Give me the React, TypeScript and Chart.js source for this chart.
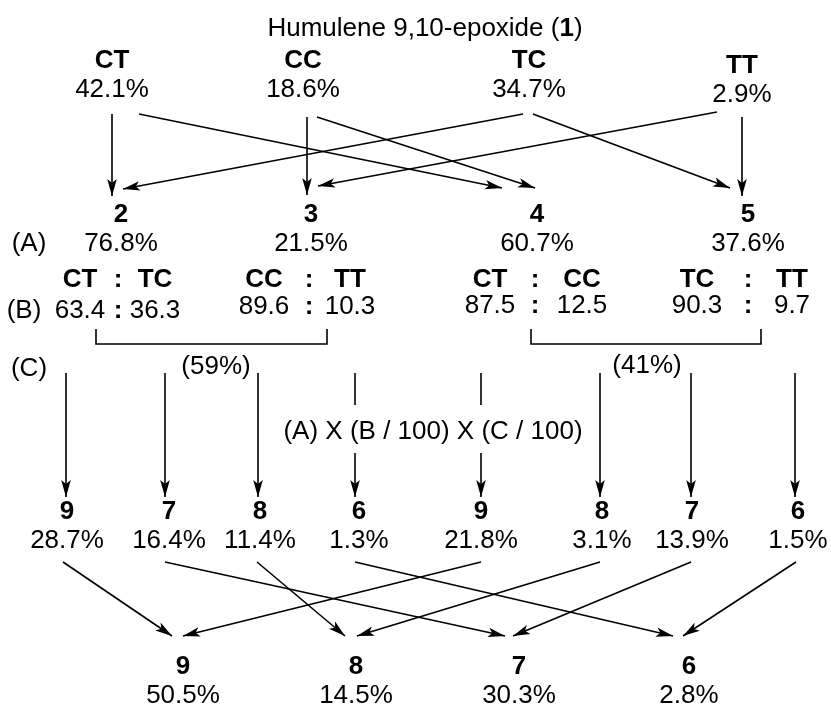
import React, { useEffect, useRef } from 'react';
import { Chart, registerables } from 'chart.js';

Chart.register(...registerables);

// ---------------- data ----------------
const titleParts = ['Humulene 9,10-epoxide (', '1', ')'];
const isomerNames = ['CT', 'CC', 'TC', 'TT'];
const isomerShares = [42.1, 18.6, 34.7, 2.9];
const ketoneNames = ['2', '3', '4', '5'];
const ketoneYieldA = [76.8, 21.5, 60.7, 37.6];
const ratioPairs = [['CT', 'TC'], ['CC', 'TT'], ['CT', 'CC'], ['TC', 'TT']];
const ratioFirst = ['63.4', '89.6', '87.5', '90.3'];
const ratioSecond = ['36.3', '10.3', '12.5', '9.7'];
const groupShareC = [59, 41];
const productNames = ['9', '7', '8', '6', '9', '8', '7', '6'];
const productShares = [28.7, 16.4, 11.4, 1.3, 21.8, 3.1, 13.9, 1.5];
const finalNames = ['9', '8', '7', '6'];
const finalShares = [50.5, 14.5, 30.3, 2.8];
const rowTags = ['(A)', '(B)', '(C)'];
const formulaText = '(A) X (B / 100) X (C / 100)';
// links: [source index, target index]
const isomerLinks = [[0, 0], [0, 2], [1, 1], [1, 2], [2, 0], [2, 3], [3, 1], [3, 3]];
const productLinks = [[0, 0], [1, 2], [2, 1], [3, 3], [4, 0], [5, 1], [6, 2], [7, 3]];

// ---------------- layout (diagram units) ----------------
const W = 831;
const H = 706;
const FONT = '"Liberation Sans", Arial, Helvetica, sans-serif';
const FS = 26;
const LAY = {
  titleX: 425, titleY: 36,
  isoX: [112, 303, 529, 742], isoNameY: [68, 68, 68, 73], isoPctY: [97, 97, 97, 102],
  ketX: [121, 311, 537, 748], ketNameY: 222, ketPctY: 251,
  tagX: [29, 24, 29], tagY: [251, 318, 376],
  ratioX: [[80, 118, 155], [264, 309, 350], [490, 535, 582], [697, 748, 792]],
  ratioLabelY: 287, ratioNumY: [318, 314, 313, 313],
  bracketX: [[96, 327], [531, 761]], bracketTop: 329, bracketBottom: 344,
  groupX: [216, 647], groupY: [374, 373],
  dropX: [66, 165, 258, 355, 481, 600, 691, 795], dropTop: 373, dropTip: 497,
  dropBroken: [3, 4], breakTop: 405, breakBottom: 453,
  formulaX: 433, formulaY: 439,
  prodX: [67, 169, 260, 359, 481, 602, 692, 798], prodNameY: 519, prodPctY: 548,
  finalX: [183, 356, 519, 689], finalNameY: 674, finalPctY: 703,
  // arrow end points, same order as isomerLinks
  topArrows: [[112, 114, 112, 196], [139, 114, 502, 188], [307, 117, 307, 195], [317, 117, 535, 188],
    [523, 114, 123, 189], [533, 114, 730, 188], [717, 112, 318, 186], [742, 117, 742, 196]],
  bottomStartX: [63, 165, 257, 355, 481, 600, 691, 796], bottomStartY: 562, bottomTipY: 636,
  bottomTipX: [172, 505, 345, 673, 183, 357, 513, 683],
};

type Part = { t: string; b?: boolean };
type TextItem = { parts: Part[]; x: number; y: number };

const pct = (v: number) => `${v.toFixed(1)}%`;

function buildTexts(): TextItem[] {
  const out: TextItem[] = [];
  out.push({ parts: [{ t: titleParts[0] }, { t: titleParts[1], b: true }, { t: titleParts[2] }], x: LAY.titleX, y: LAY.titleY });
  isomerNames.forEach((n, i) => {
    out.push({ parts: [{ t: n, b: true }], x: LAY.isoX[i], y: LAY.isoNameY[i] });
    out.push({ parts: [{ t: pct(isomerShares[i]) }], x: LAY.isoX[i], y: LAY.isoPctY[i] });
  });
  ketoneNames.forEach((n, i) => {
    out.push({ parts: [{ t: n, b: true }], x: LAY.ketX[i], y: LAY.ketNameY });
    out.push({ parts: [{ t: pct(ketoneYieldA[i]) }], x: LAY.ketX[i], y: LAY.ketPctY });
  });
  rowTags.forEach((t, i) => out.push({ parts: [{ t }], x: LAY.tagX[i], y: LAY.tagY[i] }));
  ratioPairs.forEach((p, i) => {
    const [a, c, b] = LAY.ratioX[i];
    out.push({ parts: [{ t: p[0], b: true }], x: a, y: LAY.ratioLabelY });
    out.push({ parts: [{ t: ':', b: true }], x: c, y: LAY.ratioLabelY });
    out.push({ parts: [{ t: p[1], b: true }], x: b, y: LAY.ratioLabelY });
    out.push({ parts: [{ t: ratioFirst[i] }], x: a, y: LAY.ratioNumY[i] });
    out.push({ parts: [{ t: ':', b: true }], x: c, y: LAY.ratioNumY[i] });
    out.push({ parts: [{ t: ratioSecond[i] }], x: b, y: LAY.ratioNumY[i] });
  });
  groupShareC.forEach((g, i) => out.push({ parts: [{ t: `(${g}%)` }], x: LAY.groupX[i], y: LAY.groupY[i] }));
  out.push({ parts: [{ t: formulaText }], x: LAY.formulaX, y: LAY.formulaY });
  productNames.forEach((n, i) => {
    out.push({ parts: [{ t: n, b: true }], x: LAY.prodX[i], y: LAY.prodNameY });
    out.push({ parts: [{ t: pct(productShares[i]) }], x: LAY.prodX[i], y: LAY.prodPctY });
  });
  finalNames.forEach((n, i) => {
    out.push({ parts: [{ t: n, b: true }], x: LAY.finalX[i], y: LAY.finalNameY });
    out.push({ parts: [{ t: pct(finalShares[i]) }], x: LAY.finalX[i], y: LAY.finalPctY });
  });
  return out;
}

type Pt = { x: number; y: number };

function lineDs(points: Pt[], arrow: boolean) {
  return {
    data: points,
    showLine: true,
    borderColor: '#000',
    backgroundColor: '#000',
    borderWidth: 1.6,
    pointRadius: 0,
    pointHoverRadius: 0,
    fill: false,
    tension: 0,
    clip: false,
    arrow,
  } as any;
}

function buildDatasets() {
  const ds: any[] = [];
  isomerLinks.forEach((_, i) => {
    const [x1, y1, x2, y2] = LAY.topArrows[i];
    ds.push(lineDs([{ x: x1, y: y1 }, { x: x2, y: y2 }], true));
  });
  LAY.bracketX.forEach(([a, b]) => {
    ds.push(lineDs([
      { x: a, y: LAY.bracketTop }, { x: a, y: LAY.bracketBottom },
      { x: b, y: LAY.bracketBottom }, { x: b, y: LAY.bracketTop },
    ], false));
  });
  LAY.dropX.forEach((x, i) => {
    if (LAY.dropBroken.includes(i)) {
      ds.push(lineDs([{ x, y: LAY.dropTop }, { x, y: LAY.breakTop }], false));
      ds.push(lineDs([{ x, y: LAY.breakBottom }, { x, y: LAY.dropTip }], true));
    } else {
      ds.push(lineDs([{ x, y: LAY.dropTop }, { x, y: LAY.dropTip }], true));
    }
  });
  productLinks.forEach(([s], i) => {
    ds.push(lineDs([
      { x: LAY.bottomStartX[s], y: LAY.bottomStartY },
      { x: LAY.bottomTipX[i], y: LAY.bottomTipY },
    ], true));
  });
  return ds;
}

export default function App() {
  const ref = useRef<HTMLCanvasElement | null>(null);

  useEffect(() => {
    if (!ref.current) return;
    const texts = buildTexts();
    const plugin = {
      id: 'diagramOverlay',
      afterDatasetsDraw(chart: any) {
        const ctx: CanvasRenderingContext2D = chart.ctx;
        const sx = chart.scales.x;
        const sy = chart.scales.y;
        ctx.save();
        // arrowheads
        ctx.fillStyle = '#000';
        chart.data.datasets.forEach((d: any) => {
          if (!d.arrow) return;
          const pts = d.data as Pt[];
          const a = pts[pts.length - 2];
          const b = pts[pts.length - 1];
          const ax = sx.getPixelForValue(a.x), ay = sy.getPixelForValue(a.y);
          const bx = sx.getPixelForValue(b.x), by = sy.getPixelForValue(b.y);
          const ang = Math.atan2(by - ay, bx - ax);
          const len = 17, half = 4.8, notch = 13;
          const c = Math.cos(ang), s = Math.sin(ang);
          ctx.beginPath();
          ctx.moveTo(bx, by);
          ctx.lineTo(bx - len * c - half * s, by - len * s + half * c);
          ctx.lineTo(bx - notch * c, by - notch * s);
          ctx.lineTo(bx - len * c + half * s, by - len * s - half * c);
          ctx.closePath();
          ctx.fill();
        });
        // texts
        ctx.textBaseline = 'alphabetic';
        ctx.textAlign = 'left';
        texts.forEach((it) => {
          const fonts = it.parts.map((p) => `${p.b ? 'bold ' : ''}${FS}px ${FONT}`);
          let total = 0;
          const widths = it.parts.map((p, k) => {
            ctx.font = fonts[k];
            const w = ctx.measureText(p.t).width;
            total += w;
            return w;
          });
          let x = sx.getPixelForValue(it.x) - total / 2;
          const y = sy.getPixelForValue(it.y);
          it.parts.forEach((p, k) => {
            ctx.font = fonts[k];
            ctx.fillText(p.t, x, y);
            x += widths[k];
          });
        });
        ctx.restore();
      },
    };

    const chart = new Chart(ref.current, {
      type: 'scatter',
      data: { datasets: buildDatasets() },
      options: {
        animation: false,
        responsive: false,
        maintainAspectRatio: false,
        devicePixelRatio: 1,
        events: [],
        layout: { padding: 0 },
        scales: {
          x: { type: 'linear', min: 0, max: W, display: false },
          y: { type: 'linear', min: 0, max: H, reverse: true, display: false },
        },
        plugins: { legend: { display: false }, tooltip: { enabled: false }, title: { display: false } },
      },
      plugins: [plugin],
    } as any);
    return () => chart.destroy();
  }, []);

  return (
    <div style={{ position: 'absolute', left: 0, top: 0, width: W, height: H, background: '#fff' }}>
      <canvas ref={ref} width={W} height={H} style={{ display: 'block', width: W, height: H }} />
    </div>
  );
}
